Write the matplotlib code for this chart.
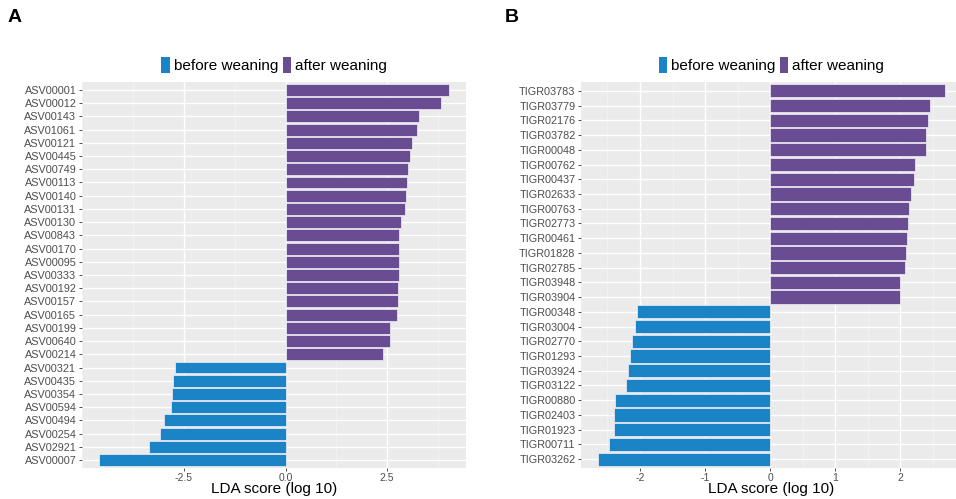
import matplotlib
matplotlib.use("Agg")
import matplotlib.pyplot as plt
from matplotlib.patches import Patch
from matplotlib.ticker import MultipleLocator

plt.rcParams['font.family'] = ['Liberation Sans', 'DejaVu Sans']

# Panel A data
a_after_labels = ["ASV00001", "ASV00012", "ASV00143", "ASV01061", "ASV00121", "ASV00445",
                  "ASV00749", "ASV00113", "ASV00140", "ASV00131", "ASV00130", "ASV00843",
                  "ASV00170", "ASV00095", "ASV00333", "ASV00192", "ASV00157", "ASV00165",
                  "ASV00199", "ASV00640", "ASV00214"]
a_after_values = [4.01, 3.83, 3.28, 3.24, 3.11, 3.06, 3.02, 3.00, 2.97, 2.93, 2.83, 2.80,
                  2.80, 2.80, 2.78, 2.76, 2.76, 2.74, 2.58, 2.56, 2.40]
a_before_labels = ["ASV00321", "ASV00435", "ASV00354", "ASV00594", "ASV00494", "ASV00254",
                   "ASV02921", "ASV00007"]
a_before_values = [-2.73, -2.76, -2.79, -2.82, -2.99, -3.10, -3.35, -4.58]
a_xticks = [-2.5, 0.0, 2.5]
a_xticklabels = ["-2.5", "0.0", "2.5"]

# Panel B data
b_after_labels = ["TIGR03783", "TIGR03779", "TIGR02176", "TIGR03782", "TIGR00048", "TIGR00762",
                  "TIGR00437", "TIGR02633", "TIGR00763", "TIGR02773", "TIGR00461", "TIGR01828",
                  "TIGR02785", "TIGR03948", "TIGR03904"]
b_after_values = [2.68, 2.45, 2.42, 2.40, 2.40, 2.23, 2.21, 2.16, 2.13, 2.11, 2.10, 2.08,
                  2.07, 2.00, 2.00]
b_before_labels = ["TIGR00348", "TIGR03004", "TIGR02770", "TIGR01293", "TIGR03924", "TIGR03122",
                   "TIGR00880", "TIGR02403", "TIGR01923", "TIGR00711", "TIGR03262"]
b_before_values = [-2.05, -2.07, -2.13, -2.15, -2.18, -2.22, -2.38, -2.40, -2.40, -2.47, -2.64]
b_xticks = [-2, -1, 0, 1, 2]
b_xticklabels = ["-2", "-1", "0", "1", "2"]

group_names = ["before weaning", "after weaning"]
colors = {"before weaning": "#1B84C7", "after weaning": "#6A4C93"}

W, H = 956, 499
fig = plt.figure(figsize=(W / 100, H / 100), dpi=100)
fig.patch.set_facecolor("white")


def panel(rect, after_l, after_v, before_l, before_v, xticks, xticklabels, minor):
    ax = fig.add_axes(rect)
    labels = after_l + before_l
    values = after_v + before_v
    cols = [colors["after weaning"]] * len(after_v) + [colors["before weaning"]] * len(before_v)
    n = len(labels)
    ypos = list(range(n))
    ax.set_facecolor("#EBEBEB")
    ax.set_axisbelow(True)
    ax.barh(ypos, values, height=0.9, color=cols, edgecolor="#F4F0F8", linewidth=0.5, zorder=3)
    ax.set_ylim(n - 1 + 0.6, -0.6)
    lo, hi = min(values), max(values)
    pad = 0.05 * (hi - lo)
    ax.set_xlim(lo - pad, hi + pad)
    ax.set_yticks(ypos)
    ax.set_yticklabels(labels)
    ax.set_xticks(xticks)
    ax.set_xticklabels(xticklabels)
    ax.xaxis.set_minor_locator(MultipleLocator(minor))
    ax.grid(True, which="major", color="white", linewidth=1.0)
    ax.grid(True, which="minor", axis="x", color="#F5F5F5", linewidth=0.5)
    ax.tick_params(axis="y", which="major", colors="#333333", labelcolor="#4D4D4D",
                   labelsize=7.8, length=2.5, width=0.6, pad=1.5)
    ax.tick_params(axis="x", which="major", colors="#333333", labelcolor="#4D4D4D",
                   labelsize=7.5, length=2.5, width=0.6, pad=1.0)
    ax.tick_params(axis="both", which="minor", length=0)
    for s in ax.spines.values():
        s.set_visible(False)
    ax.set_xlabel("LDA score (log 10)", fontsize=11, color="black")
    ax.xaxis.label.set_va("baseline")
    ax.xaxis.set_label_coords(0.5, (468 - 493) / 386)
    handles = [Patch(facecolor=colors[g], edgecolor="none") for g in group_names]
    ax.legend(handles, group_names, loc="lower center", bbox_to_anchor=(0.5, 1.0),
              ncol=2, frameon=False, fontsize=11, handlelength=0.55, handleheight=1.2,
              handletextpad=0.25, columnspacing=0.3, borderaxespad=0.2)
    return ax


axA = panel([82 / W, 1 - 468 / H, (466 - 82) / W, (468 - 82) / H],
            a_after_labels, a_after_values, a_before_labels, a_before_values,
            a_xticks, a_xticklabels, 1.25)
axB = panel([581 / W, 1 - 468 / H, (962 - 581) / W, (468 - 82) / H],
            b_after_labels, b_after_values, b_before_labels, b_before_values,
            b_xticks, b_xticklabels, 0.5)

fig.text(8 / W, 1 - 18 / H, "A", fontsize=14, fontweight="bold", va="center", ha="left")
fig.text(505 / W, 1 - 18 / H, "B", fontsize=14, fontweight="bold", va="center", ha="left")

fig.savefig("out.png", dpi=100)
